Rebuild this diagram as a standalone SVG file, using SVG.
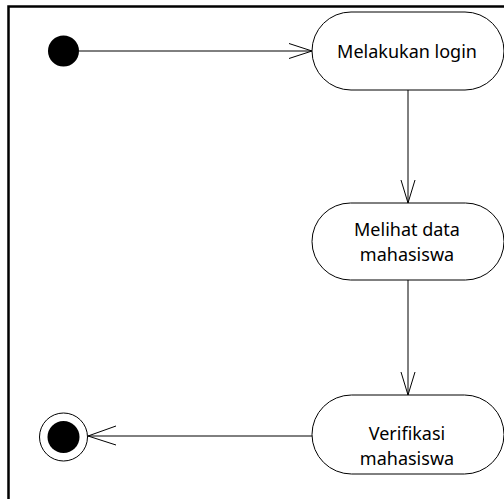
<svg xmlns="http://www.w3.org/2000/svg" width="504" height="499" viewBox="0 0 504 499">
  <style>
    .frame { fill: none; stroke: #000; stroke-width: 2.5; }
    .action { fill: #fff; stroke: #000; stroke-width: 1; }
    .label { font-family: "Noto Sans", "Open Sans", sans-serif; font-size: 18px; fill: #000; text-anchor: middle; }
    .flow { fill: none; stroke: #000; stroke-width: 1; }
    .head { fill: none; stroke: #000; stroke-width: 1; }
  </style>
  <rect width="504" height="499" fill="#fff"/>
  <!-- activity frame -->
  <rect class="frame" x="8.5" y="6.5" width="520" height="520"/>

  <g id="connectors">
    <!-- start -> Melakukan login -->
    <line class="flow" x1="79" y1="51" x2="312" y2="51"/>
    <polyline class="head" points="289,43.5 312,51 289,58.5"/>
    <!-- Melakukan login -> Melihat data mahasiswa -->
    <line class="flow" x1="408" y1="90" x2="408" y2="203"/>
    <polyline class="head" points="401,180 408,203 415,180"/>
    <!-- Melihat data mahasiswa -> Verifikasi mahasiswa -->
    <line class="flow" x1="408" y1="280" x2="408" y2="395"/>
    <polyline class="head" points="401,372 408,395 415,372"/>
    <!-- Verifikasi mahasiswa -> end -->
    <line class="flow" x1="312" y1="436" x2="88" y2="436"/>
    <polyline class="head" points="116,426 88,436 116,445"/>
  </g>

  <g id="start">
    <circle cx="63.5" cy="51" r="15.5" fill="#000"/>
  </g>

  <g id="melakukan-login">
    <rect class="action" x="312" y="12" width="192" height="78" rx="39" ry="39"/>
    <text class="label" x="407" y="58">Melakukan login</text>
  </g>

  <g id="melihat-data-mahasiswa">
    <rect class="action" x="312" y="203" width="192" height="77" rx="38.5" ry="38.5"/>
    <text class="label" x="407" y="236">Melihat data</text>
    <text class="label" x="407" y="261">mahasiswa</text>
  </g>

  <g id="verifikasi-mahasiswa">
    <rect class="action" x="312" y="395" width="192" height="79" rx="39.5" ry="39.5"/>
    <text class="label" x="407" y="440">Verifikasi</text>
    <text class="label" x="407" y="465">mahasiswa</text>
  </g>

  <g id="end">
    <circle cx="63.5" cy="437" r="24" fill="#fff" stroke="#000" stroke-width="1"/>
    <circle cx="63.5" cy="437" r="16" fill="#000"/>
  </g>
</svg>
